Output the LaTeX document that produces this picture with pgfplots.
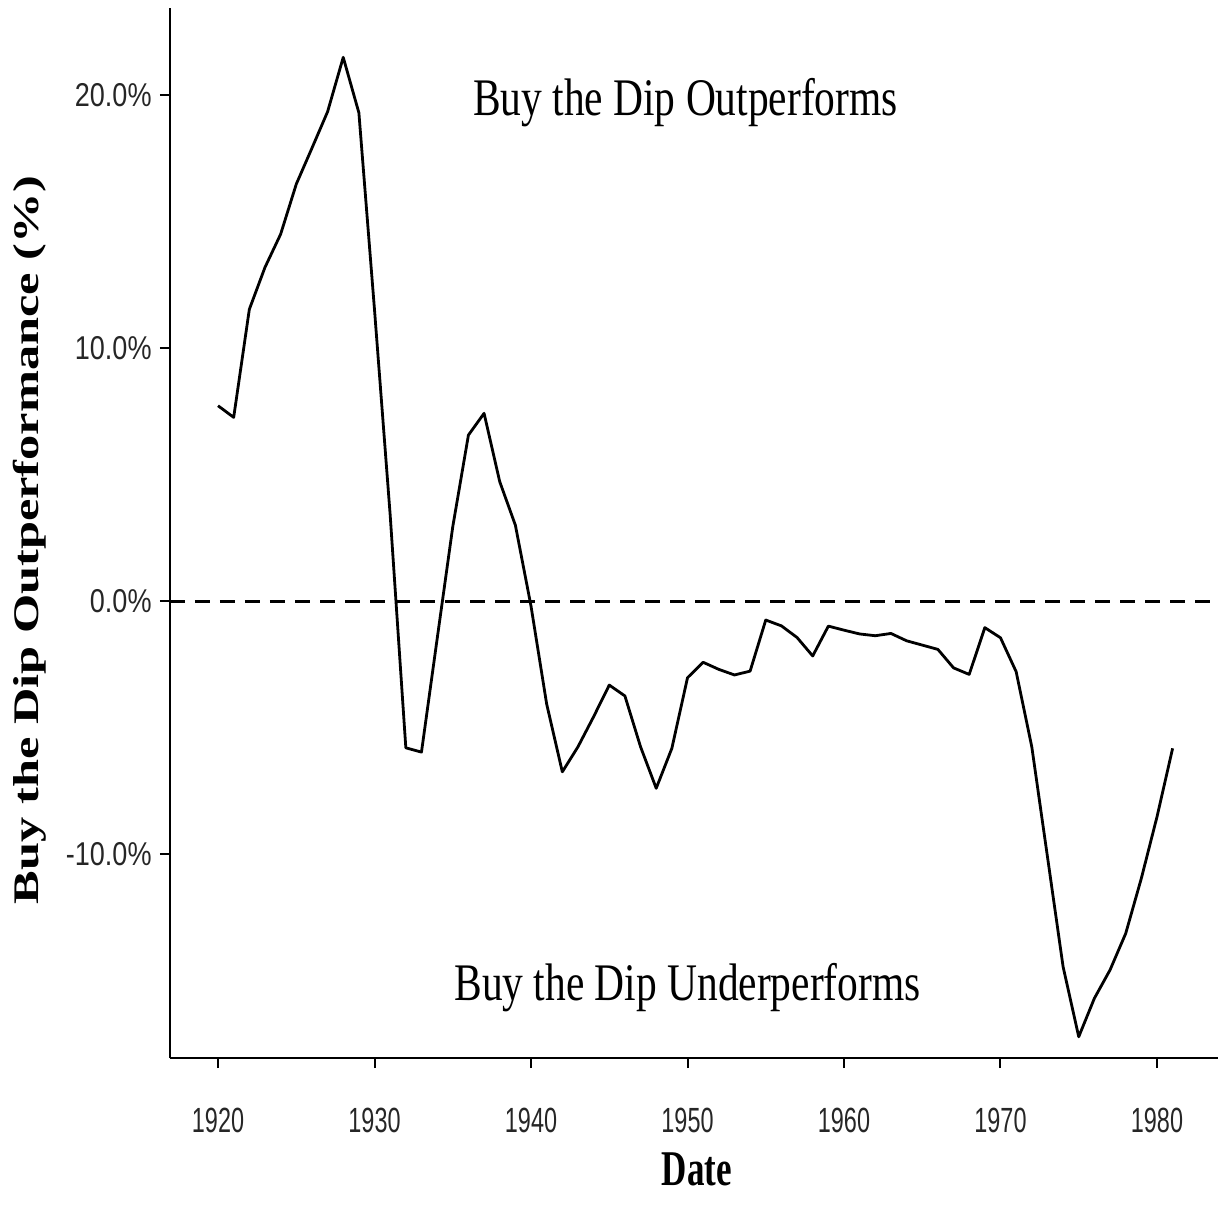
\documentclass[border=0pt]{standalone}
\usepackage{fontspec}
\usepackage{pgfplots}
\pgfplotsset{compat=1.18}
\setmainfont{Liberation Serif}
\newfontfamily\tickfont[FakeStretch=0.67]{Liberation Sans}
\newfontfamily\ytickfont[FakeStretch=0.82]{Liberation Sans}
\newfontfamily\annfont[FakeStretch=0.785]{Liberation Serif}
\newfontfamily\ylabfont[FakeStretch=1.40]{Liberation Serif}
\newfontfamily\xlabfont[FakeStretch=0.70]{Liberation Serif}
\pgfplotstableread{
year val
1920 7.72
1921 7.26
1922 11.53
1923 13.19
1924 14.5
1925 16.48
1926 17.9
1927 19.34
1928 21.49
1929 19.3
1930 11.5
1931 3.4
1932 -5.8
1933 -5.97
1934 -1.5
1935 2.94
1936 6.56
1937 7.42
1938 4.72
1939 3.0
1940 -0.2
1941 -4.07
1942 -6.75
1943 -5.76
1944 -4.57
1945 -3.32
1946 -3.75
1947 -5.76
1948 -7.4
1949 -5.82
1950 -3.03
1951 -2.42
1952 -2.7
1953 -2.92
1954 -2.77
1955 -0.75
1956 -0.98
1957 -1.44
1958 -2.17
1959 -0.99
1960 -1.15
1961 -1.30
1962 -1.37
1963 -1.28
1964 -1.57
1965 -1.74
1966 -1.91
1967 -2.64
1968 -2.9
1969 -1.05
1970 -1.45
1971 -2.79
1972 -5.76
1973 -10.1
1974 -14.45
1975 -17.22
1976 -15.7
1977 -14.58
1978 -13.14
1979 -10.96
1980 -8.53
1981 -5.82
}\datatable
\begin{document}
\begin{tikzpicture}
\path[use as bounding box] (-85pt,-82pt) rectangle (527pt,529pt);
\begin{axis}[
  at={(0,0)}, anchor=south west,
  scale only axis,
  width=524pt, height=525pt,
  xmin=1916.93, xmax=1983.9,
  ymin=-18.06, ymax=23.44,
  axis lines=left,
  axis line style={line width=1.3pt, -},
  tick style={line width=1pt, black},
  tick align=outside,
  major tick length=5pt,
  xtick={1920,1930,1940,1950,1960,1970,1980},
  xticklabels={1920,1930,1940,1950,1960,1970,1980},
  ytick={-10,0,10,20},
  yticklabels={-10.0\%,0.0\%,10.0\%,20.0\%},
  minor tick num=0,
  xticklabel style={font=\tickfont\fontsize{17.5pt}{20pt}\selectfont, text=black!85, anchor=north, inner sep=0pt, yshift=-20pt},
  yticklabel style={font=\ytickfont\fontsize{16.5pt}{20pt}\selectfont, text=black!85, anchor=east, inner sep=0pt, xshift=-4pt},
  clip=false,
]
\addplot[black, line width=1.5pt, dash pattern=on 7.5pt off 5pt] coordinates {(1916.93,0) (1983.9,0)};
\addplot[black, line width=1.4pt, line join=round] table[x=year, y=val] {\datatable};
\node[anchor=base, inner sep=0pt, font=\annfont\fontsize{26.4pt}{30pt}\selectfont] at (axis cs:1949.87,19.21) {Buy the Dip Outperforms};
\node[anchor=base, inner sep=0pt, font=\annfont\fontsize{26.4pt}{30pt}\selectfont] at (axis cs:1950.0,-15.77) {Buy the Dip Underperforms};
\node[anchor=base, inner sep=0pt, font=\xlabfont\bfseries\fontsize{25pt}{30pt}\selectfont] at (axis cs:1950.6,-23.08) {Date};
\node[rotate=90, anchor=center, inner sep=0pt, font=\ylabfont\bfseries\fontsize{18pt}{22pt}\selectfont] at (axis cs:1907.99,2.41) {Buy the Dip Outperformance (\%)};
\end{axis}
\end{tikzpicture}
\end{document}
